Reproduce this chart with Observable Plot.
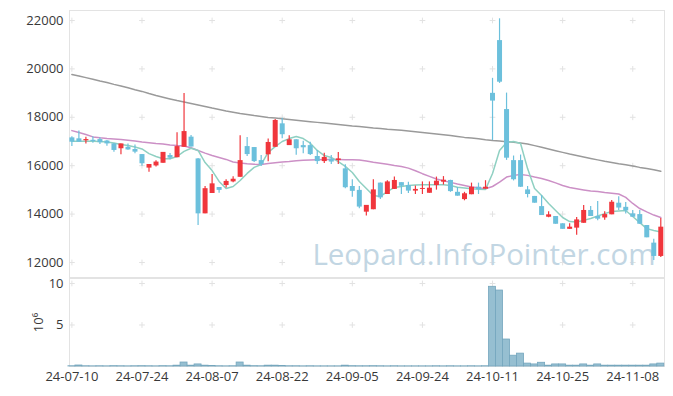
<!DOCTYPE html>
<html><head><meta charset="utf-8">
<script src="https://cdn.jsdelivr.net/npm/d3@7"></script>
<script src="https://cdn.jsdelivr.net/npm/@observablehq/plot@0.6"></script>
<style>
body{margin:0;background:#fff;}
#c{position:relative;width:673px;height:396px;overflow:hidden;}
#c svg{position:absolute;left:0;overflow:visible;}
</style></head><body><div id="c"></div>
<script>
const dates = ["2024-07-10","2024-07-11","2024-07-12","2024-07-15","2024-07-16","2024-07-17","2024-07-18","2024-07-19","2024-07-22","2024-07-23",
"2024-07-24","2024-07-25","2024-07-26","2024-07-29","2024-07-30","2024-07-31","2024-08-01","2024-08-02","2024-08-05","2024-08-06",
"2024-08-07","2024-08-08","2024-08-09","2024-08-12","2024-08-13","2024-08-14","2024-08-16","2024-08-19","2024-08-20","2024-08-21",
"2024-08-22","2024-08-23","2024-08-26","2024-08-27","2024-08-28","2024-08-29","2024-08-30","2024-09-02","2024-09-03","2024-09-04",
"2024-09-05","2024-09-06","2024-09-09","2024-09-10","2024-09-11","2024-09-12","2024-09-13","2024-09-19","2024-09-20","2024-09-23",
"2024-09-24","2024-09-25","2024-09-26","2024-09-27","2024-09-30","2024-10-02","2024-10-04","2024-10-07","2024-10-08","2024-10-10",
"2024-10-11","2024-10-14","2024-10-15","2024-10-16","2024-10-17","2024-10-18","2024-10-21","2024-10-22","2024-10-23","2024-10-24",
"2024-10-25","2024-10-28","2024-10-29","2024-10-30","2024-10-31","2024-11-01","2024-11-04","2024-11-05","2024-11-06","2024-11-07",
"2024-11-08","2024-11-11","2024-11-12","2024-11-13","2024-11-14"];
const open = [17150,17110,17030,17050,17080,17020,16900,16700,16760,16670,
16460,15900,15990,16100,16420,16330,16760,17180,16280,14010,
14850,15100,15180,15330,15520,16790,16750,16210,16450,16760,
17730,16830,17070,16830,16830,16380,16170,16270,16210,15870,
15140,14980,14080,14180,15280,14810,15020,15300,15180,14950,
15020,14860,15180,15320,15390,14900,14600,14800,15110,15030,
18990,21170,18320,16210,16210,15000,14730,14310,13870,13900,
13600,13370,13420,13620,14150,13900,13840,13970,14450,14280,
14010,13980,13530,12800,12250];
const high = [17200,17430,17180,17200,17150,17040,16920,16900,16900,16860,
16460,16050,16200,16550,16500,17360,18980,17250,16300,15140,
15640,15100,15420,15540,17240,17170,16750,16420,17100,17910,
17960,17240,17070,17010,16970,16630,16510,16420,16550,16040,
15420,15140,14360,15420,15280,15380,15530,15300,15320,15160,
15330,15330,15530,15550,15400,15100,14900,15280,15280,15380,
19610,22070,19000,16400,16440,15140,14730,14770,14100,13900,
13600,13600,13860,14360,14310,14520,14100,14560,14720,14480,
14150,14150,13530,12960,13820];
const low = [16790,16970,16900,16930,16880,16800,16560,16450,16640,16490,
15980,15730,15950,16100,16250,16330,16760,16770,13530,14010,
14850,14860,15080,15300,15520,16380,16130,15970,16160,16760,
17110,16830,16430,16490,16420,16050,16090,16050,16050,15050,
14700,14220,13920,14180,14600,14810,15020,14810,14850,14810,
14810,14860,14990,15200,14900,14740,14550,14800,14810,15030,
17040,19400,16220,15370,15100,14670,14450,13940,13850,13580,
13370,13370,13130,13620,13900,13720,13750,13970,14150,14000,
13870,13580,13020,12080,12210];
const close = [16970,16970,17080,17000,16950,16900,16630,16900,16650,16560,
16080,16050,16150,16550,16310,16790,17410,16770,14010,15050,
15250,14980,15350,15440,16210,16460,16170,16040,16960,17870,
17280,17070,16700,16740,16460,16170,16340,16150,16280,15090,
14940,14290,14360,15000,14670,15330,15390,15150,14950,15020,
15060,15070,15360,15400,14930,14740,14840,15110,15010,15110,
18670,19450,16310,15420,15110,14810,14450,13940,13970,13580,
13370,13460,13760,14150,13900,13790,13980,14490,14250,14130,
13870,13580,13020,12250,13460];
// volume in millions of shares
const volume = [0.03,0.12,0.03,0.02,0.03,0.02,0.04,0.03,0.02,0.03,
0.04,0.03,0.02,0.04,0.03,0.10,0.48,0.10,0.25,0.10,
0.05,0.03,0.02,0.03,0.48,0.10,0.04,0.03,0.10,0.10,
0.05,0.03,0.03,0.02,0.03,0.02,0.02,0.02,0.02,0.10,
0.04,0.03,0.03,0.04,0.03,0.02,0.03,0.02,0.02,0.02,
0.02,0.02,0.03,0.02,0.03,0.02,0.02,0.03,0.02,0.03,
9.60,9.15,3.25,1.30,1.55,0.35,0.25,0.45,0.10,0.25,
0.25,0.10,0.10,0.25,0.10,0.25,0.10,0.10,0.10,0.10,
0.10,0.10,0.10,0.25,0.35];
const ma5 = [17010,17010,17010,17010,17000,16980,16940,16880,16830,16770,
16690,16500,16380,16290,16290,16380,16590,16720,16630,16130,
15800,15350,15060,15140,15390,15680,15930,16050,16550,16790,
17000,17120,17210,17120,16930,16630,16420,16340,16170,15970,
15720,15350,15060,14770,14730,14930,15100,15140,15180,15200,
15210,15210,15210,15210,15180,15110,15080,15050,15030,15020,
15680,16630,16960,17000,16920,15880,15060,14770,14440,14150,
13860,13690,13670,13740,13820,13920,14020,14110,14130,14150,
13900,13650,13400,13320,13260];
const ma20 = [17450,17370,17290,17190,17150,17120,17100,17080,17050,17020,
16980,16950,16920,16900,16860,16830,16810,16740,16630,16520,
16420,16340,16260,16150,16110,16080,16060,16050,16090,16120,
16150,16170,16200,16220,16240,16250,16260,16260,16260,16250,
16250,16240,16190,16140,16100,16060,16010,15970,15900,15790,
15670,15560,15450,15380,15310,15240,15180,15120,15090,15050,
15140,15320,15530,15600,15640,15600,15530,15470,15390,15290,
15180,15100,15050,15000,14950,14930,14890,14860,14830,14690,
14440,14230,14090,13960,13860];
const ma120 = [19770,19710,19640,19570,19500,19440,19360,19290,19220,19140,
19070,18980,18900,18830,18760,18690,18630,18570,18510,18450,
18380,18320,18260,18210,18160,18120,18070,18030,17990,17970,
17940,17910,17880,17850,17820,17790,17760,17730,17700,17670,
17640,17620,17590,17560,17540,17510,17490,17460,17430,17400,
17370,17340,17310,17280,17250,17210,17170,17140,17110,17070,
17040,17020,16990,16970,16940,16900,16830,16760,16690,16620,
16550,16480,16420,16360,16300,16240,16180,16130,16080,16040,
15990,15930,15880,15830,15770];
const xTicks = [0,10,20,30,40,50,60,70,80];
const yTicks = [12000,14000,16000,18000,20000,22000];
const volTicks = [5,10];

const rows = dates.map((d,i)=>({i, d, o:open[i], h:high[i], l:low[i], c:close[i], v:volume[i], up: close[i] >= open[i]}));
const maRows = (arr)=>arr.map((y,i)=>({i,y}));
const RED = "#f0363c", BLUE = "#6cc0dc";
const xDomain = [-0.34, 84.53];
const font = {fontFamily:"'Open Sans', sans-serif", fontSize:"13px", color:"#383838", background:"transparent"};
const grid = (ys)=>ys.flatMap(y=>xTicks.map(x=>({x,y})));

const main = Plot.plot({
  width:673, height:278, marginTop:10, marginBottom:1, marginLeft:69, marginRight:9,
  style:font,
  x:{domain:xDomain, axis:null},
  y:{domain:[11380,22413], ticks:yTicks, tickSize:0, tickPadding:6, tickFormat:d=>String(d), label:null},
  marks:[
    Plot.frame({stroke:"#e3e3e3"}),
    Plot.dot(grid(yTicks), {x:"x", y:"y", symbol:"plus", r:2, stroke:"#e2e2e2", strokeWidth:1}),
    Plot.text(["Leopard.InfoPointer.com"], {frameAnchor:"bottom-right", textAnchor:"end", lineAnchor:"bottom", dx:-9, dy:-13, fontSize:29.5, fill:"#c2d6e3", fontFamily:"'Open Sans', sans-serif"}),
    Plot.line(maRows(ma120), {x:"i", y:"y", stroke:"#9a9a9a", strokeWidth:1.5}),
    Plot.line(maRows(ma20), {x:"i", y:"y", stroke:"#cc90c6", strokeWidth:1.5}),
    Plot.line(maRows(ma5), {x:"i", y:"y", stroke:"#8fd0c2", strokeWidth:1.5}),
    Plot.ruleX(rows, {x:"i", y1:"l", y2:"h", stroke:d=>d.up?RED:BLUE, strokeWidth:1.2}),
    Plot.ruleX(rows, {x:"i", y1:"o", y2:"c", stroke:d=>d.up?RED:BLUE, strokeWidth:5}),
    Plot.axisY({ticks:yTicks, tickSize:0, tickPadding:6, tickFormat:d=>String(d), label:null})
  ]
});

const vol = Plot.plot({
  width:673, height:134, marginTop:16, marginBottom:30, marginLeft:69, marginRight:9,
  style:font,
  x:{domain:xDomain, ticks:xTicks, tickSize:0, tickPadding:5, tickFormat:i=>dates[i].slice(2), label:null},
  y:{domain:[0,10.6], ticks:volTicks, tickSize:0, tickPadding:6, label:"10⁶", labelAnchor:"center", labelArrow:"none", labelOffset:36},
  marks:[
    Plot.frame({stroke:"#e3e3e3"}),
    Plot.dot(grid(volTicks), {x:"x", y:"y", symbol:"plus", r:2, stroke:"#e2e2e2", strokeWidth:1}),
    Plot.rectY(rows, {x1:d=>d.i-0.5, x2:d=>d.i+0.5, y:"v", fill:"#96bfd1", stroke:"#74a6bd", strokeWidth:0.8})
  ]
});
vol.style.top = "262px";
main.style.top = "0px";
const c = document.getElementById("c");
c.appendChild(vol);
c.appendChild(main);
main.style.pointerEvents = "none";
</script></body></html>
